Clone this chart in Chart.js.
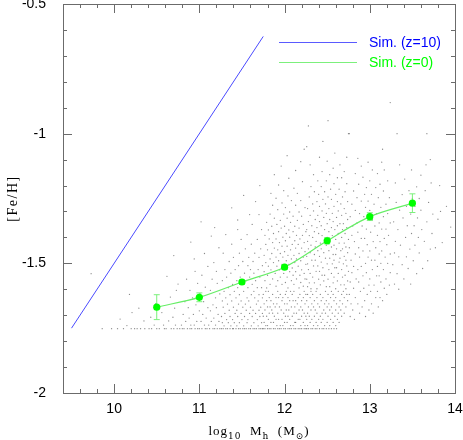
<!DOCTYPE html>
<html>
<head>
<meta charset="utf-8">
<script src="https://cdn.jsdelivr.net/npm/chart.js@4.4.1/dist/chart.umd.min.js"></script>
<style>
  html, body { margin: 0; padding: 0; background: #fff; }
  #wrap { width: 463px; height: 440px; }
</style>
</head>
<body>
<div id="wrap"><canvas id="chart" width="463" height="440"></canvas></div>
<script>
const xTickValues = [10, 11, 12, 13, 14];
const yTickValues = [-2, -1.5, -1, -0.5];
const seriesLabels = ['Sim. (z=10)', 'Sim. (z=0)'];

// z=10 relation (straight line)
const blueMass = [9.5, 11.75];
const blueFeH = [-1.75, -0.625];

// z=0 median with error bars
const greenMass = [10.5, 11, 11.5, 12, 12.5, 13, 13.5];
const greenFeH = [-1.669, -1.631, -1.572, -1.515, -1.413, -1.320, -1.268];
const greenErr = [0.048, 0.017, 0.008, 0.008, 0.012, 0.015, 0.036];

// individual haloes, rows of [feH, mass, mass, ...] per mass bin
const cloud10 = [
  [-1.752, 9.86, 9.97, 10.04, 10.11, 10.2, 10.24],
  [-1.74, 10.15],
  [-1.715, 10.07],
  [-1.69, 10.21],
  [-1.62, 10.18],
  [-1.54, 9.73]
];
const cloud10_5 = [
  [-1.752, 10.27, 10.31, 10.36, 10.41, 10.44, 10.5, 10.53, 10.59, 10.61, 10.67, 10.7, 10.74],
  [-1.738, 10.47, 10.58, 10.72],
  [-1.722, 10.35, 10.64],
  [-1.708, 10.43, 10.69],
  [-1.69, 10.56],
  [-1.673, 10.71, 10.29],
  [-1.655, 10.49],
  [-1.63, 10.66],
  [-1.604, 10.73],
  [-1.58, 10.75],
  [-1.55, 10.62],
  [-1.47, 10.7]
];
const cloud11 = [
  [-1.752, 10.77, 10.8, 10.82, 10.86, 10.89, 10.91, 10.95, 10.98, 11.0, 11.03, 11.07, 11.09, 11.12, 11.16, 11.18, 11.21, 11.24],
  [-1.738, 10.79, 10.9, 10.94, 11.06, 11.11, 11.19],
  [-1.724, 10.84, 10.97, 11.02, 11.14, 11.23],
  [-1.711, 10.88, 11.08, 11.17],
  [-1.697, 10.81, 10.93, 11.04, 11.22],
  [-1.683, 11.0, 11.13],
  [-1.671, 10.87, 11.1, 11.2],
  [-1.66, 10.96, 11.16],
  [-1.648, 11.05, 10.83],
  [-1.633, 11.19, 10.92],
  [-1.618, 11.01, 11.24],
  [-1.604, 10.89, 11.13],
  [-1.592, 11.07],
  [-1.577, 10.98, 11.21],
  [-1.561, 11.15, 10.85],
  [-1.546, 11.03],
  [-1.531, 11.2, 10.95],
  [-1.512, 11.1],
  [-1.497, 11.17],
  [-1.483, 10.94],
  [-1.462, 11.06],
  [-1.44, 11.23],
  [-1.418, 10.9],
  [-1.395, 11.14],
  [-1.362, 11.18],
  [-1.34, 11.02]
];
const cloud11_5 = [
  [-1.752, 11.26, 11.28, 11.31, 11.33, 11.36, 11.39, 11.4, 11.43, 11.46, 11.48, 11.51, 11.53, 11.55, 11.58, 11.6, 11.63, 11.65, 11.67, 11.7, 11.72, 11.74],
  [-1.741, 11.29, 11.37, 11.44, 11.52, 11.61, 11.69],
  [-1.729, 11.27, 11.34, 11.41, 11.47, 11.56, 11.64, 11.73],
  [-1.717, 11.32, 11.39, 11.5, 11.57, 11.68],
  [-1.705, 11.26, 11.36, 11.45, 11.53, 11.62, 11.71],
  [-1.693, 11.3, 11.42, 11.49, 11.59, 11.66, 11.74],
  [-1.681, 11.35, 11.44, 11.55, 11.63, 11.7],
  [-1.669, 11.28, 11.4, 11.51, 11.6, 11.72],
  [-1.657, 11.33, 11.46, 11.54, 11.67],
  [-1.645, 11.27, 11.38, 11.49, 11.58, 11.69],
  [-1.633, 11.31, 11.43, 11.56, 11.65, 11.74],
  [-1.621, 11.36, 11.47, 11.61, 11.7],
  [-1.608, 11.29, 11.41, 11.52, 11.64],
  [-1.594, 11.34, 11.45, 11.57, 11.68, 11.73],
  [-1.581, 11.39, 11.5, 11.62],
  [-1.567, 11.27, 11.44, 11.55, 11.66],
  [-1.553, 11.32, 11.48, 11.59, 11.71],
  [-1.538, 11.37, 11.53, 11.64],
  [-1.524, 11.3, 11.42, 11.6, 11.69],
  [-1.509, 11.46, 11.57, 11.74],
  [-1.493, 11.35, 11.51, 11.63],
  [-1.477, 11.4, 11.58, 11.7],
  [-1.461, 11.28, 11.47, 11.65],
  [-1.444, 11.54, 11.72],
  [-1.426, 11.38, 11.61],
  [-1.408, 11.49, 11.68],
  [-1.389, 11.31, 11.56],
  [-1.37, 11.45, 11.73],
  [-1.35, 11.62],
  [-1.333, 11.45],
  [-1.312, 11.59, 11.7],
  [-1.286, 11.38],
  [-1.262, 11.66],
  [-1.238, 11.52],
  [-1.2, 11.71]
];
const cloud12 = [
  [-1.752, 11.75, 11.77, 11.8, 11.82, 11.84, 11.87, 11.89, 11.92, 11.94, 11.96, 11.99, 12.01, 12.04, 12.06, 12.08, 12.11, 12.13, 12.16, 12.18, 12.2, 12.23, 12.25],
  [-1.74, 11.78, 11.8, 11.91, 11.95, 11.98, 12.07, 12.1, 12.19, 12.24],
  [-1.728, 11.76, 11.84, 11.87, 12.0, 12.03, 12.12, 12.13, 12.22],
  [-1.716, 11.81, 11.9, 11.93, 11.97, 12.06, 12.16, 12.18],
  [-1.704, 11.75, 11.79, 11.88, 12.01, 12.04, 12.09, 12.2, 12.25],
  [-1.692, 11.82, 11.86, 11.92, 11.99, 12.11, 12.14, 12.23],
  [-1.68, 11.77, 11.85, 11.96, 12.02, 12.05, 12.17, 12.21],
  [-1.668, 11.8, 11.83, 11.89, 11.94, 12.08, 12.12, 12.19],
  [-1.656, 11.76, 11.87, 11.91, 12.0, 12.03, 12.15, 12.24],
  [-1.644, 11.79, 11.84, 11.97, 12.06, 12.1, 12.13, 12.2],
  [-1.632, 11.82, 11.9, 11.93, 11.98, 12.04, 12.16, 12.22],
  [-1.62, 11.75, 11.86, 11.95, 12.01, 12.09, 12.18, 12.25],
  [-1.608, 11.78, 11.81, 11.92, 12.02, 12.07, 12.11, 12.23],
  [-1.595, 11.79, 12.04, 12.17],
  [-1.588, 11.9, 12.22],
  [-1.581, 11.83, 11.97, 12.11],
  [-1.574, 12.01, 12.19],
  [-1.567, 11.77, 11.92, 12.08],
  [-1.56, 11.86, 12.14, 12.24],
  [-1.553, 11.95, 12.03],
  [-1.546, 11.8, 12.1, 12.18],
  [-1.539, 11.89, 11.99, 12.23],
  [-1.532, 11.76, 12.06, 12.13],
  [-1.525, 11.84, 11.94, 12.2],
  [-1.518, 12.0, 12.09],
  [-1.511, 11.81, 11.91, 12.16],
  [-1.504, 11.97, 12.05, 12.25],
  [-1.497, 11.78, 11.87, 12.12],
  [-1.49, 11.93, 12.02, 12.19],
  [-1.483, 11.83, 12.08, 12.14],
  [-1.476, 11.9, 11.98, 12.22],
  [-1.469, 11.76, 12.04, 12.11],
  [-1.462, 11.85, 11.95, 12.17],
  [-1.455, 12.0, 12.24],
  [-1.448, 11.8, 11.92, 12.07],
  [-1.441, 11.88, 12.13, 12.2],
  [-1.434, 11.97, 12.03],
  [-1.427, 11.78, 12.09, 12.16],
  [-1.42, 11.86, 11.94, 12.23],
  [-1.413, 12.01, 12.12],
  [-1.406, 11.82, 11.9, 12.18],
  [-1.399, 11.98, 12.06],
  [-1.392, 11.77, 12.14, 12.21],
  [-1.385, 11.87, 12.02],
  [-1.378, 11.93, 12.1, 12.25],
  [-1.371, 11.81, 12.05],
  [-1.364, 11.96, 12.17],
  [-1.357, 11.85, 12.0, 12.12],
  [-1.35, 11.91, 12.22],
  [-1.342, 11.79, 12.07],
  [-1.334, 11.95, 12.15],
  [-1.326, 11.88, 12.03],
  [-1.318, 12.1, 12.2],
  [-1.31, 11.83, 11.99],
  [-1.302, 12.06, 12.17],
  [-1.293, 11.92],
  [-1.285, 12.01, 12.24],
  [-1.276, 11.86, 12.13],
  [-1.267, 11.97],
  [-1.258, 12.08, 12.19],
  [-1.249, 11.9],
  [-1.24, 12.04],
  [-1.23, 11.84, 12.15],
  [-1.22, 11.99],
  [-1.21, 12.11],
  [-1.198, 11.93],
  [-1.185, 12.21],
  [-1.172, 12.05],
  [-1.158, 11.88],
  [-1.142, 12.13],
  [-1.125, 11.96],
  [-1.108, 12.19],
  [-1.085, 12.03],
  [-1.06, 12.23]
];
const cloud12_5 = [
  [-1.752, 12.26, 12.28, 12.31, 12.33, 12.36, 12.38, 12.41, 12.44, 12.46, 12.49, 12.52, 12.55, 12.58, 12.61],
  [-1.74, 12.27, 12.34, 12.39, 12.47, 12.53, 12.6],
  [-1.728, 12.3, 12.37, 12.43, 12.5, 12.57, 12.64],
  [-1.716, 12.26, 12.32, 12.4, 12.45, 12.54, 12.62],
  [-1.704, 12.29, 12.35, 12.42, 12.51, 12.59, 12.67],
  [-1.692, 12.27, 12.38, 12.44, 12.48, 12.56, 12.63, 12.7],
  [-1.68, 12.31, 12.36, 12.46, 12.53, 12.6, 12.66],
  [-1.668, 12.28, 12.34, 12.41, 12.5, 12.55, 12.64, 12.72],
  [-1.656, 12.32, 12.39, 12.47, 12.52, 12.61, 12.68],
  [-1.644, 12.26, 12.35, 12.43, 12.49, 12.58, 12.65, 12.74],
  [-1.632, 12.3, 12.38, 12.45, 12.54, 12.6, 12.7],
  [-1.62, 12.27, 12.33, 12.42, 12.51, 12.57, 12.67, 12.73],
  [-1.608, 12.31, 12.37, 12.48, 12.55, 12.63, 12.69],
  [-1.598, 12.31, 12.38, 12.6, 12.72],
  [-1.59, 12.27, 12.49, 12.53],
  [-1.583, 12.42, 12.66, 12.7],
  [-1.575, 12.29, 12.35, 12.57],
  [-1.568, 12.46, 12.62, 12.74],
  [-1.561, 12.26, 12.4, 12.51],
  [-1.553, 12.33, 12.58, 12.68],
  [-1.546, 12.44, 12.47, 12.71],
  [-1.539, 12.3, 12.55, 12.63],
  [-1.531, 12.37, 12.41, 12.75],
  [-1.524, 12.28, 12.52, 12.67],
  [-1.517, 12.45, 12.59, 12.61],
  [-1.51, 12.34, 12.39, 12.73],
  [-1.502, 12.27, 12.5, 12.56, 12.69],
  [-1.495, 12.43, 12.64],
  [-1.488, 12.32, 12.36, 12.58, 12.72],
  [-1.48, 12.48, 12.53, 12.65],
  [-1.473, 12.26, 12.41, 12.7],
  [-1.466, 12.35, 12.57, 12.6],
  [-1.459, 12.3, 12.46, 12.74],
  [-1.451, 12.39, 12.52, 12.66],
  [-1.444, 12.28, 12.43, 12.61, 12.68],
  [-1.437, 12.36, 12.55, 12.72],
  [-1.43, 12.31, 12.49, 12.58],
  [-1.422, 12.42, 12.64, 12.7],
  [-1.415, 12.27, 12.37, 12.53],
  [-1.408, 12.47, 12.6, 12.75],
  [-1.4, 12.33, 12.5, 12.67],
  [-1.393, 12.29, 12.44, 12.56],
  [-1.385, 12.4, 12.63, 12.71],
  [-1.378, 12.35, 12.52],
  [-1.37, 12.26, 12.47, 12.59, 12.68],
  [-1.362, 12.38, 12.55, 12.73],
  [-1.355, 12.32, 12.43, 12.62],
  [-1.347, 12.5, 12.65, 12.69],
  [-1.339, 12.28, 12.41, 12.57],
  [-1.331, 12.36, 12.53, 12.74],
  [-1.323, 12.46, 12.61],
  [-1.315, 12.3, 12.39, 12.67],
  [-1.307, 12.49, 12.56, 12.72],
  [-1.298, 12.34, 12.44, 12.63],
  [-1.289, 12.27, 12.52, 12.7],
  [-1.28, 12.41, 12.58],
  [-1.271, 12.33, 12.48, 12.66],
  [-1.262, 12.38, 12.62, 12.74],
  [-1.253, 12.45, 12.55],
  [-1.244, 12.29, 12.51, 12.68],
  [-1.234, 12.4, 12.6],
  [-1.224, 12.35, 12.47, 12.71],
  [-1.214, 12.54, 12.64],
  [-1.204, 12.31, 12.43],
  [-1.193, 12.58, 12.73],
  [-1.182, 12.39, 12.49],
  [-1.17, 12.62, 12.67],
  [-1.158, 12.34, 12.53],
  [-1.146, 12.44, 12.7],
  [-1.133, 12.57],
  [-1.12, 12.3, 12.65],
  [-1.106, 12.5],
  [-1.091, 12.41, 12.73],
  [-1.075, 12.59],
  [-1.05, 12.26],
  [-1.03, 12.45],
  [-1.0, 12.75],
  [-0.97, 12.28],
  [-0.95, 12.51]
];
const cloud13 = [
  [-1.716, 12.82],
  [-1.705, 12.77, 12.95],
  [-1.692, 12.88, 13.04],
  [-1.68, 12.8, 12.99],
  [-1.668, 12.91, 13.1],
  [-1.656, 12.78, 12.86, 13.02],
  [-1.644, 12.94, 13.15],
  [-1.632, 12.83, 13.07, 13.12],
  [-1.62, 12.76, 12.97, 13.2],
  [-1.608, 12.89, 13.01, 13.09],
  [-1.596, 12.81, 12.93, 13.17],
  [-1.584, 12.99, 13.05, 13.23],
  [-1.572, 12.77, 12.87, 13.13],
  [-1.56, 12.84, 13.0, 13.19],
  [-1.548, 12.92, 13.08, 13.11],
  [-1.536, 12.79, 12.96, 13.24],
  [-1.524, 12.86, 13.03, 13.16],
  [-1.512, 12.81, 12.9, 13.09],
  [-1.5, 12.95, 13.13, 13.21],
  [-1.488, 12.78, 13.02, 13.06],
  [-1.476, 12.88, 12.98, 13.18],
  [-1.464, 12.83, 13.11, 13.24],
  [-1.452, 12.92, 13.0, 13.14],
  [-1.44, 12.76, 12.87, 13.07],
  [-1.428, 12.97, 13.2],
  [-1.416, 12.82, 13.04, 13.12],
  [-1.404, 12.9, 12.94, 13.17],
  [-1.392, 12.79, 13.09, 13.22],
  [-1.38, 12.86, 13.01],
  [-1.368, 12.96, 13.14, 13.19],
  [-1.356, 12.8, 12.91, 13.06],
  [-1.344, 12.85, 13.11, 13.24],
  [-1.332, 12.99, 13.03],
  [-1.32, 12.77, 12.93, 13.16],
  [-1.308, 12.88, 13.08, 13.21],
  [-1.296, 12.83, 13.0],
  [-1.284, 12.95, 13.13],
  [-1.272, 12.79, 13.05, 13.19],
  [-1.26, 12.9, 12.98],
  [-1.247, 12.85, 13.1, 13.23],
  [-1.234, 12.94, 13.02],
  [-1.221, 12.81, 13.16],
  [-1.208, 13.07, 12.96],
  [-1.195, 12.87, 13.12],
  [-1.182, 13.0, 13.21],
  [-1.168, 12.92],
  [-1.154, 12.83, 13.09],
  [-1.14, 13.03, 13.17],
  [-1.125, 12.9],
  [-1.11, 13.14, 12.98],
  [-1.095, 12.86],
  [-1.06, 13.15],
  [-1.0, 12.76],
  [-0.88, 13.24]
];
const cloud13_5 = [
  [-1.6, 13.34],
  [-1.58, 13.29, 13.48],
  [-1.56, 13.4],
  [-1.54, 13.32, 13.55],
  [-1.52, 13.45, 13.62],
  [-1.505, 13.27, 13.38],
  [-1.49, 13.51, 13.68],
  [-1.475, 13.34, 13.43],
  [-1.46, 13.58, 13.29],
  [-1.445, 13.47, 13.71],
  [-1.43, 13.36, 13.53],
  [-1.415, 13.3, 13.64],
  [-1.4, 13.42, 13.57],
  [-1.385, 13.49, 13.73],
  [-1.37, 13.33, 13.61],
  [-1.355, 13.44, 13.52],
  [-1.34, 13.28, 13.67],
  [-1.325, 13.39, 13.56],
  [-1.31, 13.48, 13.74],
  [-1.295, 13.35, 13.6],
  [-1.28, 13.43, 13.53],
  [-1.265, 13.31, 13.69],
  [-1.25, 13.5, 13.58],
  [-1.235, 13.38],
  [-1.22, 13.46, 13.65],
  [-1.205, 13.55],
  [-1.19, 13.3, 13.72],
  [-1.175, 13.41],
  [-1.16, 13.6],
  [-1.14, 13.49],
  [-1.12, 13.35, 13.66],
  [-1.1, 13.71],
  [-1.0, 13.32, 13.67]
];
const cloud14 = [
  [-1.44, 13.77],
  [-1.42, 13.85],
  [-1.36, 13.95],
  [-1.33, 13.8],
  [-1.30, 13.83],
  [-1.28, 13.9],
  [-1.20, 13.82]
];

const cloudBins = [cloud10, cloud10_5, cloud11, cloud11_5, cloud12, cloud12_5, cloud13, cloud13_5, cloud14];
const cloudPoints = cloudBins.flatMap(bin =>
  bin.flatMap(row => row.slice(1).map(m => ({ x: m, y: row[0] })))
);

const FRAME = '#6b6b6b';

const framePlugin = {
  id: 'frame',
  afterDatasetsDraw(chart) {
    const { ctx, chartArea: a, scales: { x, y } } = chart;
    ctx.save();
    ctx.strokeStyle = FRAME;
    ctx.lineWidth = 1;
    ctx.strokeRect(Math.round(a.left) + 0.5, Math.round(a.top) + 0.5,
      Math.round(a.right - a.left), Math.round(a.bottom - a.top));
    ctx.beginPath();
    // minor ticks every 0.2 in x, 0.1 in y; major ones at labelled values
    for (let v = 9.4; v <= 14.001; v += 0.2) {
      const val = Math.round(v * 10) / 10;
      const len = xTickValues.includes(val) ? 9 : 4;
      const px = Math.round(x.getPixelForValue(val)) + 0.5;
      ctx.moveTo(px, a.bottom); ctx.lineTo(px, a.bottom - len);
      ctx.moveTo(px, a.top); ctx.lineTo(px, a.top + len);
    }
    for (let v = -2; v <= -0.499; v += 0.1) {
      const val = Math.round(v * 10) / 10;
      const len = yTickValues.includes(val) ? 9 : 4;
      const py = Math.round(y.getPixelForValue(val)) + 0.5;
      ctx.moveTo(a.left, py); ctx.lineTo(a.left + len, py);
      ctx.moveTo(a.right, py); ctx.lineTo(a.right - len, py);
    }
    ctx.stroke();
    ctx.restore();
  }
};

const errorBarPlugin = {
  id: 'errorBars',
  beforeDatasetDraw(chart, args) {
    if (args.index !== 0) return;
    const { ctx, scales: { x, y } } = chart;
    ctx.save();
    ctx.strokeStyle = '#7cf07c';
    ctx.lineWidth = 1;
    ctx.beginPath();
    greenMass.forEach((m, i) => {
      const px = x.getPixelForValue(m);
      const top = y.getPixelForValue(greenFeH[i] + greenErr[i]);
      const bot = y.getPixelForValue(greenFeH[i] - greenErr[i]);
      ctx.moveTo(px, top); ctx.lineTo(px, bot);
      ctx.moveTo(px - 3, top); ctx.lineTo(px + 3, top);
      ctx.moveTo(px - 3, bot); ctx.lineTo(px + 3, bot);
    });
    ctx.stroke();
    ctx.restore();
  }
};

const labelsPlugin = {
  id: 'labels',
  afterDraw(chart) {
    const { ctx, chartArea: a } = chart;
    ctx.save();
    // legend
    const colors = [['#5a5aff', '#0000ff'], ['#7cf07c', '#00ff00']];
    seriesLabels.forEach((t, i) => {
      const yy = a.top + 38 + i * 20;
      const lx = a.right - 176;
      ctx.strokeStyle = colors[i][0];
      ctx.lineWidth = 1;
      ctx.beginPath();
      ctx.moveTo(lx, yy + 0.5); ctx.lineTo(lx + 78, yy + 0.5);
      ctx.stroke();
      ctx.fillStyle = colors[i][1];
      ctx.font = '14px "Liberation Sans", Arial, sans-serif';
      ctx.textBaseline = 'middle';
      ctx.textAlign = 'left';
      ctx.fillText(t, lx + 90, yy + 1);
    });

    // y title
    ctx.fillStyle = '#000';
    ctx.font = '14px "Liberation Serif", serif';
    ctx.letterSpacing = '1.5px';
    ctx.translate(13, (a.top + a.bottom) / 2);
    ctx.rotate(-Math.PI / 2);
    ctx.textAlign = 'center';
    ctx.textBaseline = 'middle';
    ctx.fillText('[Fe/H]', 0, 0);
    ctx.setTransform(1, 0, 0, 1, 0, 0);

    // x title with subscripts
    const parts = [['log', 0], ['10', 1], ['  M', 0], ['h', 1], ['  (M', 0], ['\u2299', 1], [')', 0]];
    const main = '13px "Liberation Serif", serif';
    const sub = '9px "DejaVu Serif", serif';
    ctx.letterSpacing = '1px';
    let w = 0;
    parts.forEach(([t, s]) => { ctx.font = s ? sub : main; w += ctx.measureText(t).width; });
    let px = (a.left + a.right) / 2 - w / 2;
    const base = 435;
    ctx.textAlign = 'left';
    ctx.textBaseline = 'alphabetic';
    parts.forEach(([t, s]) => {
      ctx.font = s ? sub : main;
      ctx.fillText(t, px, s ? base + 4 : base);
      px += ctx.measureText(t).width;
    });
    ctx.restore();
  }
};

new Chart(document.getElementById('chart'), {
  type: 'scatter',
  data: {
    datasets: [
      {
        label: seriesLabels[1],
        type: 'line',
        data: greenMass.map((m, i) => ({ x: m, y: greenFeH[i] })),
        borderColor: '#66ee66',
        borderWidth: 1.2,
        backgroundColor: '#00ff00',
        pointBackgroundColor: '#00ff00',
        pointBorderWidth: 0,
        pointRadius: 3.6,
        tension: 0.3,
        fill: false,
        order: 0
      },
      {
        label: seriesLabels[0],
        type: 'line',
        data: blueMass.map((m, i) => ({ x: m, y: blueFeH[i] })),
        borderColor: '#4a4aff',
        borderWidth: 1,
        pointRadius: 0,
        fill: false,
        order: 1
      },
      {
        label: 'haloes',
        data: cloudPoints,
        pointRadius: 0.65,
        pointBorderWidth: 0,
        backgroundColor: 'rgba(60,60,60,0.6)',
        order: 2
      }
    ]
  },
  options: {
    responsive: false,
    animation: false,
    devicePixelRatio: 1,
    layout: { padding: { left: 0, right: 8, top: 3, bottom: 0 } },
    plugins: { legend: { display: false }, tooltip: { enabled: false } },
    scales: {
      x: {
        type: 'linear',
        min: 9.4,
        max: 14,
        grid: { display: false, drawTicks: false },
        border: { display: false },
        afterBuildTicks: s => { s.ticks = xTickValues.map(v => ({ value: v })); },
        afterFit: s => { s.height = 47; s.paddingLeft = 0; s.paddingRight = 0; },
        ticks: {
          padding: 8,
          color: '#000',
          maxRotation: 0,
          font: { family: '"Liberation Sans", Arial, sans-serif', size: 14 },
          callback: v => String(v)
        }
      },
      y: {
        type: 'linear',
        min: -2,
        max: -0.5,
        grid: { display: false, drawTicks: false },
        border: { display: false },
        afterBuildTicks: s => { s.ticks = yTickValues.map(v => ({ value: v })); },
        afterFit: s => { s.width = 63; s.paddingTop = 0; s.paddingBottom = 0; },
        ticks: {
          padding: 17,
          color: '#000',
          font: { family: '"Liberation Sans", Arial, sans-serif', size: 14 },
          callback: v => String(v)
        }
      }
    }
  },
  plugins: [framePlugin, errorBarPlugin, labelsPlugin]
});
</script>
</body>
</html>
